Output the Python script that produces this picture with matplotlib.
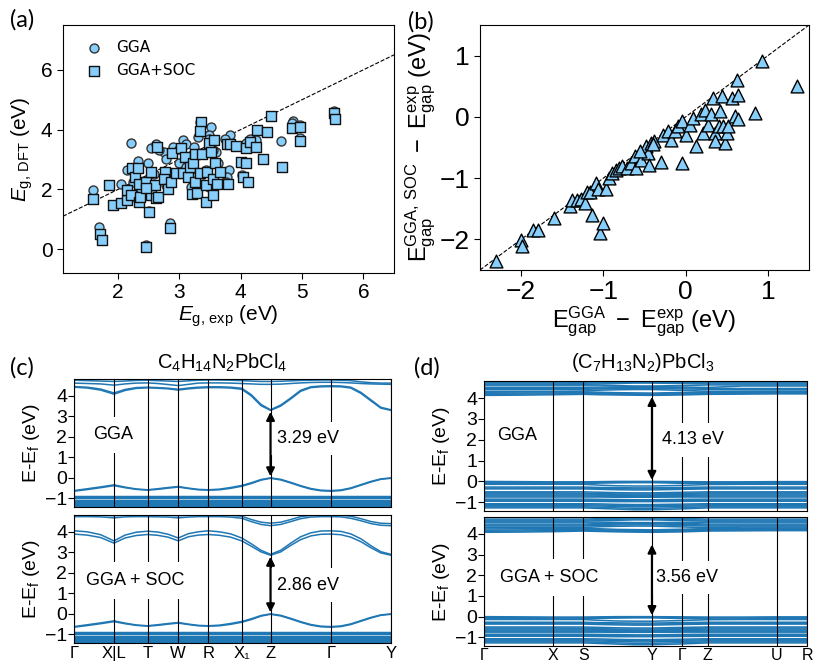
import numpy as np
import matplotlib
matplotlib.use("Agg")
import matplotlib.pyplot as plt

plt.rcParams['font.family'] = ['Liberation Sans', 'DejaVu Sans']
plt.rcParams['mathtext.fontset'] = 'custom'
plt.rcParams['mathtext.rm'] = 'Liberation Sans'
plt.rcParams['mathtext.it'] = 'Liberation Sans:italic'
plt.rcParams['mathtext.bf'] = 'Liberation Sans:bold'

# ---------------- (a) experimental vs DFT gaps ----------------
gga_exp = [1.59, 1.69, 2.21, 2.05, 2.50, 2.45, 2.84, 2.33, 2.14, 2.49, 2.53, 2.62, 2.75, 2.78, 2.90,
           3.06, 3.11, 3.24, 3.31, 3.33, 3.52, 3.49, 3.48, 3.59, 3.83, 3.80, 3.75, 4.09, 4.15, 4.25,
           4.66, 4.85, 4.84, 4.96, 4.97, 5.52, 5.53, 2.78, 3.44, 4.02, 3.63, 3.00, 3.19, 3.26, 3.78,
           2.38, 2.46, 2.33, 2.84, 3.11, 3.38, 2.59, 2.24, 3.49, 3.76, 2.67, 3.00, 3.20, 3.55]
gga_dft = [1.99, 0.73, 3.56, 2.19, 1.29, 0.13, 0.87, 2.94, 2.66, 2.89, 3.37, 3.52, 3.26, 3.03, 3.43,
           3.65, 3.52, 3.43, 3.76, 4.24, 4.10, 3.82, 3.67, 3.26, 3.82, 2.64, 3.67, 3.56, 3.67, 3.65,
           3.62, 4.30, 4.21, 4.16, 3.71, 4.61, 4.42, 2.13, 2.64, 2.47, 2.87, 2.87, 2.08, 2.42, 2.42,
           2.02, 1.91, 1.63, 2.53, 2.75, 2.19, 2.53, 2.25, 2.08, 2.25, 3.30, 3.35, 3.15, 3.30]

soc_exp = [1.59, 1.70, 1.73, 1.85, 1.92, 2.05, 2.14, 2.22, 2.15, 2.21, 2.27, 2.33, 2.34, 2.34, 2.35,
           2.46, 2.50, 2.45, 2.54, 2.53, 2.60, 2.62, 2.65, 2.64, 2.76, 2.75, 2.84, 2.82, 2.87, 2.88,
           2.94, 3.03, 3.06, 3.09, 3.14, 3.17, 3.20, 3.22, 3.25, 3.26, 3.29, 3.33, 3.35, 3.34, 3.37,
           3.43, 3.44, 3.45, 3.48, 3.51, 3.54, 3.55, 3.56, 3.58, 3.62, 3.66, 3.79, 3.77, 3.83, 3.92,
           4.01, 4.03, 4.09, 4.09, 4.12, 4.15, 4.25, 4.26, 4.36, 4.42, 4.50, 4.67, 4.84, 4.96, 4.97,
           5.52, 5.54, 2.46]
soc_dft = [1.66, 0.51, 0.30, 2.16, 1.49, 1.55, 1.65, 2.70, 1.97, 1.80, 2.42, 2.70, 2.19, 1.57, 1.76,
           2.25, 1.24, 0.08, 1.80, 2.58, 2.13, 1.71, 1.74, 3.43, 2.58, 2.36, 0.71, 2.02, 2.25, 3.22,
           2.55, 3.37, 2.55, 3.09, 2.42, 2.75, 1.85, 2.87, 3.18, 2.25, 1.88, 2.56, 4.24, 3.96, 3.18,
           2.13, 1.57, 2.58, 3.56, 3.26, 1.82, 2.36, 3.65, 2.87, 2.19, 2.58, 2.19, 3.51, 3.52, 3.46,
           2.92, 2.42, 2.87, 3.37, 2.25, 3.60, 3.43, 3.99, 3.01, 3.93, 4.44, 2.75, 4.04, 4.07, 3.62,
           4.55, 4.36, 2.04]

# ---------------- (b) GGA error vs GGA+SOC error ----------------
err_gga = [-2.31, -2.00, -1.99, -1.85, -1.79, -1.60, -1.40, -1.38, -1.32, -1.27, -1.22, -1.20, -1.14,
           -1.16, -1.09, -1.06, -1.04, -1.00, -0.97, -0.93, -0.89, -0.85, -0.81, -0.77, -0.71, -0.67,
           -0.62, -0.60, -0.54, -0.48, -0.46, -0.44, -0.42, -0.38, -0.30, -0.28, -0.22, -0.18, -0.13,
           -0.09, -0.05, -0.05, 0.01, 0.05, 0.09, 0.13, 0.19, 0.21, 0.24, 0.27, 0.31, 0.33, 0.36,
           0.36, 0.40, 0.42, 0.44, 0.45, 0.48, 0.50, 0.52, 0.56, 0.60, 0.63, 0.64, 0.64, 0.84, 0.93,
           1.36, -0.56, -0.40]
err_soc = [-2.35, -2.01, -2.11, -1.84, -1.84, -1.65, -1.46, -1.35, -1.35, -1.34, -1.40, -1.23, -1.61,
           -1.23, -1.08, -1.17, -1.89, -1.73, -1.18, -0.99, -0.91, -0.86, -0.83, -0.80, -0.83, -0.75,
           -0.64, -0.83, -0.70, -0.48, -0.59, -0.78, -0.42, -0.40, -0.74, -0.29, -0.23, -0.37, -0.23,
           -0.15, -0.07, -0.75, -0.29, -0.13, -0.02, -0.48, 0.04, -0.26, 0.12, -0.13, 0.04, 0.31, -0.26,
           -0.40, -0.15, 0.09, 0.34, -0.15, -0.42, -0.26, -0.15, 0.31, 0.01, 0.61, 0.36, -0.04, 0.07,
           0.91, 0.51, -0.56, -0.44]

# ---------------- (c) C4H14N2PbCl4 band structure ----------------
kc = [0.000, 0.042, 0.084, 0.126, 0.161, 0.196, 0.232, 0.264, 0.297, 0.329, 0.361, 0.392, 0.424,
      0.459, 0.494, 0.529, 0.559, 0.590, 0.620, 0.652, 0.684, 0.715, 0.747, 0.779, 0.810, 0.842,
      0.873, 0.905, 0.937, 0.968, 1.000]
kc_ticks = [0.0, 0.126, 0.232, 0.329, 0.424, 0.529, 0.620, 0.810, 1.0]
kc_labels = ['Γ', 'X|L', 'T', 'W', 'R', 'X₁', 'Z', 'Γ', 'Y']

val_c = [
    [-0.62, -0.53, -0.44, -0.34, -0.45, -0.54, -0.58, -0.53, -0.47, -0.42, -0.50, -0.56, -0.58, -0.55,
     -0.47, -0.37, -0.24, -0.08, 0.00, -0.07, -0.22, -0.38, -0.52, -0.60, -0.62, -0.59, -0.49, -0.33,
     -0.17, -0.05, 0.00],
    [-0.65, -0.57, -0.48, -0.38, -0.48, -0.56, -0.60, -0.56, -0.50, -0.45, -0.52, -0.58, -0.60, -0.58,
     -0.51, -0.41, -0.28, -0.11, -0.02, -0.10, -0.25, -0.41, -0.55, -0.63, -0.65, -0.62, -0.52, -0.36,
     -0.20, -0.07, -0.02],
]
deep_c = [-0.86, -0.89, -0.92, -0.95, -0.98, -1.00, -1.06, -1.09, -1.12, -1.16, -1.19, -1.22,
          -1.25, -1.30, -1.33, -1.36, -1.39]

cond_c_gga = [
    [4.42, 4.38, 4.28, 4.08, 4.26, 4.36, 4.39, 4.37, 4.34, 4.28, 4.34, 4.38, 4.40, 4.40, 4.38, 4.32,
     4.00, 3.52, 3.29, 3.50, 3.85, 4.22, 4.40, 4.44, 4.45, 4.44, 4.38, 4.12, 3.75, 3.40, 3.29],
    [4.45, 4.42, 4.33, 4.14, 4.31, 4.40, 4.42, 4.40, 4.37, 4.32, 4.38, 4.42, 4.44, 4.44, 4.42, 4.37,
     4.06, 3.58, 3.32, 3.55, 3.90, 4.27, 4.44, 4.48, 4.49, 4.48, 4.42, 4.17, 3.80, 3.44, 3.32],
    [4.62, 4.60, 4.58, 4.52, 4.58, 4.62, 4.63, 4.60, 4.55, 4.50, 4.56, 4.62, 4.63, 4.63, 4.62, 4.60,
     4.58, 4.56, 4.56, 4.57, 4.60, 4.63, 4.65, 4.66, 4.66, 4.65, 4.63, 4.60, 4.58, 4.57, 4.56],
    [4.76, 4.74, 4.72, 4.70, 4.72, 4.75, 4.76, 4.74, 4.72, 4.70, 4.73, 4.76, 4.77, 4.77, 4.76, 4.74,
     4.72, 4.70, 4.70, 4.71, 4.73, 4.75, 4.76, 4.77, 4.77, 4.76, 4.74, 4.68, 4.64, 4.62, 4.62],
]
cond_c_soc = [
    [3.89, 3.84, 3.72, 3.45, 3.70, 3.82, 3.87, 3.83, 3.74, 3.56, 3.76, 3.84, 3.87, 3.83, 3.74, 3.56,
     3.30, 3.02, 2.86, 3.02, 3.34, 3.62, 3.80, 3.88, 3.89, 3.86, 3.74, 3.52, 3.22, 2.97, 2.86],
    [4.05, 4.00, 3.86, 3.56, 3.84, 3.98, 4.03, 3.99, 3.88, 3.70, 3.91, 4.00, 4.05, 4.00, 3.90, 3.70,
     3.42, 3.10, 2.90, 3.10, 3.45, 3.76, 3.95, 4.04, 4.05, 4.02, 3.90, 3.66, 3.32, 3.03, 2.90],
    [4.74, 4.74, 4.73, 4.68, 4.73, 4.74, 4.74, 4.73, 4.72, 4.68, 4.72, 4.74, 4.74, 4.74, 4.72, 4.66,
     4.50, 4.36, 4.30, 4.36, 4.50, 4.64, 4.72, 4.74, 4.74, 4.73, 4.66, 4.54, 4.40, 4.32, 4.30],
    [4.82, 4.82, 4.81, 4.78, 4.81, 4.82, 4.82, 4.81, 4.80, 4.78, 4.80, 4.82, 4.82, 4.82, 4.80, 4.76,
     4.60, 4.47, 4.42, 4.47, 4.60, 4.74, 4.80, 4.82, 4.82, 4.81, 4.76, 4.64, 4.50, 4.42, 4.40],
]
gaps_c = [3.29, 2.86]

# ---------------- (d) (C7H13N2)PbCl3 band structure ----------------
kd = [0.0, 0.107, 0.214, 0.307, 0.360, 0.413, 0.466, 0.520, 0.613, 0.693, 0.800, 0.907, 1.0]
kd_ticks = [0.0, 0.214, 0.307, 0.520, 0.613, 0.693, 0.907, 1.0]
kd_labels = ['Γ', 'X', 'S', 'Y', 'Γ', 'Z', 'U', 'R']

val_d = [
    [0.00, -0.01, -0.02, -0.02, -0.01, 0.00, 0.00, 0.00, -0.01, -0.02, -0.02, -0.01, -0.01],
    [-0.05, -0.05, -0.06, -0.06, -0.04, -0.03, -0.03, -0.03, -0.05, -0.06, -0.06, -0.05, -0.05],
    [-0.10, -0.10, -0.11, -0.11, -0.08, -0.07, -0.06, -0.06, -0.09, -0.11, -0.11, -0.10, -0.10],
    [-0.14, -0.14, -0.14, -0.14, -0.18, -0.21, -0.22, -0.22, -0.19, -0.15, -0.14, -0.14, -0.14],
    [-0.27, -0.27, -0.27, -0.27, -0.29, -0.30, -0.31, -0.31, -0.29, -0.27, -0.27, -0.27, -0.27],
    [-0.32, -0.32, -0.32, -0.32, -0.33, -0.35, -0.36, -0.36, -0.34, -0.32, -0.32, -0.32, -0.32],
    [-0.36, -0.36, -0.36, -0.36, -0.38, -0.40, -0.41, -0.41, -0.38, -0.36, -0.36, -0.36, -0.36],
    [-0.50, -0.50, -0.50, -0.50, -0.52, -0.54, -0.55, -0.55, -0.52, -0.50, -0.50, -0.50, -0.50],
    [-0.55, -0.55, -0.55, -0.56, -0.58, -0.60, -0.60, -0.60, -0.58, -0.55, -0.55, -0.55, -0.55],
    [-0.60, -0.60, -0.60, -0.60, -0.62, -0.64, -0.65, -0.65, -0.62, -0.60, -0.60, -0.60, -0.60],
    [-0.65, -0.65, -0.65, -0.65, -0.66, -0.68, -0.69, -0.69, -0.67, -0.65, -0.65, -0.65, -0.65],
    [-0.70, -0.70, -0.70, -0.70, -0.71, -0.72, -0.73, -0.73, -0.71, -0.70, -0.70, -0.70, -0.70],
    [-0.75, -0.75, -0.75, -0.75, -0.75, -0.76, -0.76, -0.76, -0.75, -0.75, -0.75, -0.75, -0.75],
    [-0.85, -0.85, -0.85, -0.85, -0.86, -0.87, -0.88, -0.88, -0.86, -0.85, -0.85, -0.85, -0.85],
    [-0.90, -0.90, -0.90, -0.90, -0.91, -0.92, -0.93, -0.93, -0.91, -0.90, -0.90, -0.90, -0.90],
    [-0.95, -0.95, -0.95, -0.95, -0.96, -0.97, -0.97, -0.97, -0.96, -0.95, -0.95, -0.95, -0.95],
    [-1.07, -1.07, -1.07, -1.07, -1.08, -1.10, -1.11, -1.11, -1.09, -1.07, -1.07, -1.07, -1.07],
    [-1.12, -1.12, -1.12, -1.12, -1.13, -1.15, -1.16, -1.16, -1.14, -1.12, -1.12, -1.12, -1.12],
    [-1.17, -1.17, -1.17, -1.17, -1.18, -1.20, -1.22, -1.22, -1.19, -1.17, -1.17, -1.17, -1.17],
    [-1.22, -1.22, -1.22, -1.22, -1.24, -1.27, -1.29, -1.29, -1.26, -1.22, -1.22, -1.22, -1.22],
    [-1.27, -1.27, -1.27, -1.27, -1.30, -1.33, -1.36, -1.36, -1.32, -1.27, -1.27, -1.27, -1.27],
]
cond_d_gga = [
    [4.13, 4.14, 4.16, 4.18, 4.16, 4.15, 4.14, 4.13, 4.15, 4.18, 4.19, 4.20, 4.20],
    [4.18, 4.19, 4.20, 4.22, 4.20, 4.18, 4.17, 4.16, 4.19, 4.22, 4.23, 4.24, 4.24],
    [4.23, 4.24, 4.25, 4.26, 4.24, 4.22, 4.20, 4.20, 4.23, 4.26, 4.27, 4.28, 4.28],
    [4.28, 4.29, 4.30, 4.30, 4.28, 4.26, 4.25, 4.24, 4.27, 4.30, 4.31, 4.32, 4.32],
    [4.33, 4.33, 4.33, 4.34, 4.38, 4.40, 4.41, 4.41, 4.37, 4.33, 4.33, 4.33, 4.33],
    [4.42, 4.42, 4.42, 4.42, 4.44, 4.45, 4.46, 4.46, 4.44, 4.42, 4.41, 4.41, 4.41],
    [4.47, 4.47, 4.47, 4.47, 4.48, 4.50, 4.51, 4.51, 4.49, 4.47, 4.46, 4.46, 4.46],
    [4.52, 4.52, 4.52, 4.52, 4.53, 4.54, 4.55, 4.55, 4.53, 4.51, 4.58, 4.58, 4.58],
    [4.62, 4.62, 4.62, 4.62, 4.62, 4.60, 4.58, 4.58, 4.60, 4.63, 4.63, 4.63, 4.63],
    [4.67, 4.67, 4.67, 4.66, 4.68, 4.70, 4.72, 4.72, 4.70, 4.68, 4.68, 4.68, 4.68],
    [4.72, 4.72, 4.72, 4.71, 4.73, 4.75, 4.76, 4.76, 4.74, 4.73, 4.73, 4.73, 4.73],
    [4.77, 4.77, 4.77, 4.76, 4.78, 4.80, 4.82, 4.82, 4.80, 4.78, 4.78, 4.78, 4.78],
]
cond_d_soc = [
    [4.08, 4.09, 4.11, 4.14, 4.12, 4.10, 4.09, 4.08, 4.10, 4.14, 4.15, 4.16, 4.16],
    [4.13, 4.14, 4.16, 4.18, 4.16, 4.14, 4.12, 4.12, 4.14, 4.18, 4.19, 4.20, 4.20],
    [4.18, 4.19, 4.21, 4.22, 4.20, 4.18, 4.16, 4.16, 4.19, 4.22, 4.23, 4.24, 4.24],
    [4.24, 4.25, 4.26, 4.27, 4.25, 4.22, 4.21, 4.20, 4.23, 4.26, 4.27, 4.28, 4.28],
    [4.30, 4.30, 4.30, 4.31, 4.35, 4.37, 4.38, 4.38, 4.34, 4.30, 4.33, 4.33, 4.33],
    [4.38, 4.38, 4.38, 4.38, 4.41, 4.43, 4.44, 4.44, 4.41, 4.38, 4.38, 4.38, 4.38],
    [4.43, 4.43, 4.43, 4.43, 4.46, 4.48, 4.49, 4.49, 4.46, 4.43, 4.43, 4.43, 4.43],
    [4.48, 4.48, 4.48, 4.48, 4.50, 4.52, 4.53, 4.53, 4.51, 4.48, 4.48, 4.48, 4.48],
    [4.57, 4.57, 4.57, 4.57, 4.57, 4.56, 4.55, 4.55, 4.56, 4.57, 4.57, 4.57, 4.57],
    [4.62, 4.62, 4.62, 4.62, 4.64, 4.66, 4.68, 4.68, 4.65, 4.62, 4.62, 4.62, 4.62],
    [4.67, 4.67, 4.67, 4.67, 4.69, 4.71, 4.73, 4.73, 4.70, 4.67, 4.67, 4.67, 4.67],
    [4.72, 4.72, 4.72, 4.72, 4.74, 4.76, 4.78, 4.78, 4.75, 4.72, 4.72, 4.72, 4.72],
]
gaps_d = [4.13, 3.56]

BAND_COLOR = '#1f77b4'
FACE = '#87CEFA'
W, H = 813, 662

fig = plt.figure(figsize=(W / 100, H / 100), dpi=100)


def add_ax(l, t, r, b):
    # axes placed by pixel edges (left, top, right, bottom)
    return fig.add_axes([l / W, 1 - b / H, (r - l) / W, (b - t) / H])


# ---- panel (a)
ax = add_ax(63, 25, 394, 273)
ax.scatter(gga_exp, gga_dft, s=42, marker='o', facecolor=FACE, edgecolor='#333333',
           linewidth=1.0, label='GGA', zorder=3)
ax.scatter(soc_exp, soc_dft, s=42, marker='s', facecolor=FACE, edgecolor='#111111',
           linewidth=1.0, label='GGA+SOC', zorder=4)
ax.plot([1.1, 6.5], [1.1, 6.5], 'k--', lw=0.8, zorder=2)
ax.set_xlim(1.1, 6.5)
ax.set_ylim(-0.8, 7.5)
ax.set_xticks([2, 3, 4, 5, 6])
ax.set_yticks([0, 2, 4, 6])
ax.tick_params(labelsize=15, length=4)
ax.set_xlabel(r'$E_{\mathrm{g,\,exp}}$ (eV)', fontsize=15, labelpad=1)
ax.set_ylabel(r'$E_{\mathrm{g,\,DFT}}$ (eV)', fontsize=15, labelpad=4)
ax.legend(loc='upper left', frameon=False, handletextpad=0.5,
          prop={'family': 'DejaVu Sans', 'size': 11}, borderaxespad=0.6)

# ---- panel (b)
ax = add_ax(480, 25, 809, 270)
ax.scatter(err_gga, err_soc, s=85, marker='^', facecolor=FACE, edgecolor='k',
           linewidth=1.0, zorder=3)
ax.plot([-2.5, 1.5], [-2.5, 1.5], 'k--', lw=0.8, zorder=2)
ax.set_xlim(-2.5, 1.5)
ax.set_ylim(-2.5, 1.5)
ax.set_xticks([-2, -1, 0, 1])
ax.set_yticks([-2, -1, 0, 1])
ax.tick_params(labelsize=19, length=4)
ax.set_xlabel(r'$\mathrm{E_{gap}^{GGA}\ -\ E_{gap}^{exp}}$ (eV)', fontsize=17, labelpad=0)
ax.set_ylabel(r'$\mathrm{E_{gap}^{GGA,\,SOC}\ -\ E_{gap}^{exp}}$ (eV)', fontsize=17, labelpad=1)


def band_panel(box, k, ticks, labels, valence, deep, conduction, gap, kgap,
               name, name_xy, gap_xy, show_x, xfs, xpad):
    a = add_ax(*box)
    for band in valence:
        a.plot(k, band, color=BAND_COLOR, lw=1.1, zorder=2)
    for e in deep:
        a.axhline(e, color=BAND_COLOR, lw=0.9, zorder=2)
    for band in conduction:
        a.plot(k, band, color=BAND_COLOR, lw=1.1, zorder=2)
    for t in ticks:
        a.axvline(t, color='k', lw=0.8, zorder=3)
    a.annotate('', xy=(kgap, 0), xytext=(kgap, gap),
               arrowprops=dict(arrowstyle='<|-|>', color='k', lw=1.6,
                               mutation_scale=12, shrinkA=1, shrinkB=1), zorder=6)
    a.text(name_xy[0], name_xy[1], name, fontsize=13, ha='center', va='center', zorder=5,
           bbox=dict(facecolor='white', edgecolor='none', pad=7))
    a.text(gap_xy[0], gap_xy[1], f'{gap:.2f} eV', fontsize=13, ha='left', va='center',
           zorder=5, bbox=dict(facecolor='white', edgecolor='none', pad=6))
    a.set_xlim(0, 1)
    a.set_ylim(-1.42, 4.82)
    a.set_yticks([-1, 0, 1, 2, 3, 4])
    a.set_ylabel(r'E-E$_\mathrm{f}$ (eV)', fontsize=14, labelpad=2)
    a.tick_params(axis='y', labelsize=14, length=4, pad=1)
    a.set_xticks(ticks)
    if show_x:
        a.set_xticklabels(labels)
        a.tick_params(axis='x', labelsize=xfs, length=0, pad=xpad)
    else:
        a.set_xticklabels([])
        a.tick_params(axis='x', length=0)
    return a


# ---- panel (c)
band_panel((74, 379, 391, 507), kc, kc_ticks, kc_labels, val_c, deep_c, cond_c_gga,
           gaps_c[0], kc_ticks[6], 'GGA', (0.123, 2.1), (0.640, 1.92), False, 12, 2)
band_panel((74, 515, 391, 643), kc, kc_ticks, kc_labels, val_c, deep_c, cond_c_soc,
           gaps_c[1], kc_ticks[6], 'GGA + SOC', (0.192, 1.62), (0.640, 1.40), True, 12, 2)

# ---- panel (d)
band_panel((484, 381, 807, 511), kd, kd_ticks, kd_labels, val_d, [], cond_d_gga,
           gaps_d[0], kd_ticks[3], 'GGA', (0.102, 2.2), (0.552, 2.0), False, 11.5, 1.5)
band_panel((484, 517, 807, 646), kd, kd_ticks, kd_labels, val_d, [], cond_d_soc,
           gaps_d[1], kd_ticks[3], 'GGA + SOC', (0.201, 1.89), (0.532, 1.89), True, 11.5, 1.5)

fig.text(222 / W, 1 - 363 / H, r'C$_4$H$_{14}$N$_2$PbCl$_4$', fontsize=14.5,
         ha='center', va='center')
fig.text(643 / W, 1 - 363 / H, r'(C$_7$H$_{13}$N$_2$)PbCl$_3$', fontsize=14.5,
         ha='center', va='center')

for lab, x, y in [('(a)', 10, 20), ('(b)', 408, 22), ('(c)', 10, 368), ('(d)', 414, 368)]:
    fig.text(x / W, 1 - y / H, lab, fontsize=17, ha='left', va='center',
             family=['Lato', 'DejaVu Sans'])

fig.savefig('out.png', dpi=100)
